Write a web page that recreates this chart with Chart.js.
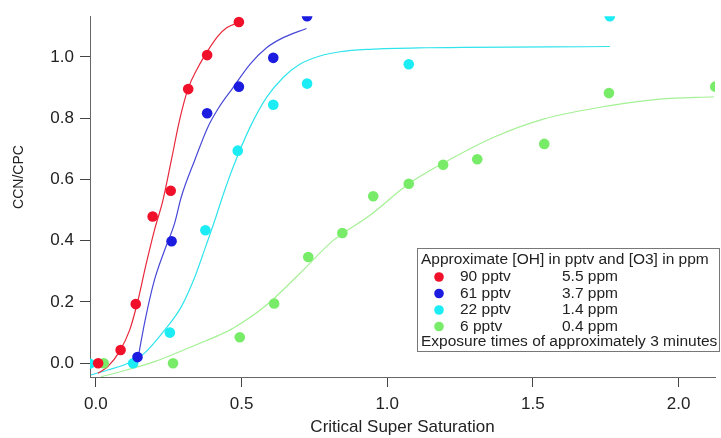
<!DOCTYPE html>
<html>
<head>
<meta charset="utf-8">
<script src="https://cdn.jsdelivr.net/npm/chart.js@4.4.1/dist/chart.umd.min.js"></script>
<style>
  html, body { margin: 0; padding: 0; background: #fff; }
  #wrap { width: 721px; height: 438px; position: relative; }
</style>
</head>
<body>
<div id="wrap"><canvas id="myChart1"></canvas></div>
<script>
const ctx = document.getElementById('myChart1');

// measured points (critical super saturation, CCN/CPC)
const redX = [0.008, 0.085, 0.137, 0.195, 0.257, 0.317, 0.382, 0.491];
const redY = [0.0, 0.043, 0.193, 0.479, 0.563, 0.895, 1.006, 1.114];
const blueX = [0.143, 0.26, 0.382, 0.491, 0.609, 0.725];
const blueY = [0.02, 0.398, 0.816, 0.903, 0.997, 1.133];
const cyanX = [-0.021, 0.128, 0.254, 0.376, 0.487, 0.609, 0.725, 1.074, 1.764];
const cyanY = [-0.002, 0.0, 0.1, 0.434, 0.694, 0.844, 0.913, 0.976, 1.133];
const greenX = [0.027, 0.265, 0.494, 0.612, 0.729, 0.846, 0.952, 1.074, 1.192, 1.309, 1.539, 1.761, 2.126];
const greenY = [0.0, 0.0, 0.085, 0.195, 0.347, 0.425, 0.545, 0.586, 0.648, 0.666, 0.716, 0.882, 0.903];

// fit curves
const redFitX = [0.007, 0.041, 0.081, 0.116, 0.142, 0.173, 0.201, 0.23, 0.259, 0.287, 0.316, 0.35, 0.384, 0.419, 0.449, 0.489];
const redFitY = [-0.033, -0.011, 0.038, 0.108, 0.195, 0.325, 0.434, 0.531, 0.662, 0.792, 0.895, 0.965, 1.02, 1.068, 1.095, 1.112];
const blueFitX = [0.14, 0.167, 0.201, 0.236, 0.27, 0.293, 0.339, 0.384, 0.419, 0.471, 0.529, 0.586, 0.643, 0.723];
const blueFitY = [-0.01, 0.13, 0.271, 0.369, 0.456, 0.542, 0.662, 0.77, 0.83, 0.9, 0.976, 1.03, 1.063, 1.093];
const cyanFitX = [-0.016, 0.041, 0.11, 0.167, 0.236, 0.293, 0.339, 0.373, 0.413, 0.437, 0.471, 0.529, 0.586, 0.643, 0.7, 0.769, 0.838, 0.941, 1.135, 1.764];
const cyanFitY = [-0.038, -0.022, 0.0, 0.033, 0.108, 0.184, 0.28, 0.37, 0.48, 0.55, 0.64, 0.77, 0.868, 0.933, 0.976, 1.003, 1.017, 1.025, 1.03, 1.034];
const greenFitX = [0.018, 0.087, 0.201, 0.316, 0.357, 0.42, 0.471, 0.586, 0.7, 0.815, 0.941, 1.074, 1.192, 1.364, 1.536, 1.764, 1.936, 2.122];
const greenFitY = [-0.044, -0.027, 0.005, 0.049, 0.065, 0.09, 0.114, 0.19, 0.293, 0.401, 0.483, 0.586, 0.653, 0.737, 0.797, 0.841, 0.862, 0.87];

const xTicks = [0, 0.5, 1.0, 1.5, 2.0];
const yTicks = [0, 0.2, 0.4, 0.6, 0.8, 1.0];

const xTitle = 'Critical Super Saturation';
const yTitle = 'CCN/CPC';
const legendTitle = 'Approximate [OH] in pptv and [O3] in ppm';
const ohLabels = ['90 pptv', '61 pptv', '22 pptv', '6 pptv'];
const o3Labels = ['5.5 ppm', '3.7 ppm', '1.4 ppm', '0.4 ppm'];
const legendFooter = 'Exposure times of approximately 3 minutes';

const pointColors = ['#f0102a', '#1c1ce0', '#1cecf4', '#78ec68'];
const lineColors = ['#e8283c', '#4848d8', '#30e4ec', '#a4f094'];

function pts(xs, ys) {
  return xs.map((x, i) => ({ x: x, y: ys[i] }));
}

const series = [
  [redX, redY, redFitX, redFitY],
  [blueX, blueY, blueFitX, blueFitY],
  [cyanX, cyanY, cyanFitX, cyanFitY],
  [greenX, greenY, greenFitX, greenFitY]
];

const datasets = [];
series.forEach((s, i) => {
  datasets.push({
    label: ohLabels[i],
    data: pts(s[0], s[1]),
    backgroundColor: pointColors[i],
    borderColor: pointColors[i],
    borderWidth: 0,
    pointRadius: 5.3,
    showLine: false,
    order: 0
  });
  datasets.push({
    label: ohLabels[i] + ' fit',
    data: pts(s[2], s[3]),
    borderColor: lineColors[i],
    borderWidth: 1.2,
    pointRadius: 0,
    showLine: true,
    tension: 0.4,
    cubicInterpolationMode: 'monotone',
    order: 1
  });
});

const FONT = '"Liberation Sans", Arial, sans-serif';

// legend box and y title drawn by hand
const extras = {
  id: 'extras',
  afterDraw(chart) {
    const c = chart.ctx;
    c.save();
    c.fillStyle = '#222';
    c.font = '14px ' + FONT;
    c.textAlign = 'center';
    c.textBaseline = 'middle';
    c.translate(19, 177);
    c.rotate(-Math.PI / 2);
    c.fillText(yTitle, 0, 0);
    c.restore();

    c.save();
    c.fillStyle = '#fff';
    c.fillRect(417, 248, 303, 104);
    c.strokeStyle = '#777';
    c.lineWidth = 1;
    c.strokeRect(417.5, 248.5, 302, 103);
    c.font = '15.5px ' + FONT;
    c.fillStyle = '#222';
    c.textBaseline = 'middle';
    c.fillText(legendTitle, 421, 260);
    ohLabels.forEach((lab, i) => {
      const y = 277 + i * 16.5;
      c.beginPath();
      c.arc(439, y, 4.8, 0, Math.PI * 2);
      c.fillStyle = pointColors[i];
      c.fill();
      c.fillStyle = '#222';
      c.fillText(lab, 460, y);
      c.fillText(o3Labels[i], 562, y);
    });
    c.fillText(legendFooter, 421, 342);
    c.restore();
  }
};

new Chart(ctx, {
  type: 'scatter',
  data: { datasets: datasets },
  options: {
    responsive: true,
    maintainAspectRatio: false,
    animation: false,
    layout: { padding: { top: 15, right: 6, left: 0, bottom: 0 } },
    plugins: {
      legend: { display: false },
      tooltip: { enabled: false }
    },
    scales: {
      x: {
        type: 'linear',
        min: -0.02,
        max: 2.125,
        afterBuildTicks: axis => { axis.ticks = xTicks.map(v => ({ value: v })); },
        afterFit: scale => { scale.height = 61; },
        border: { display: true, color: '#666', width: 1 },
        grid: { drawOnChartArea: false, drawTicks: true, tickLength: 10, color: '#444' },
        ticks: {
          padding: 7,
          color: '#222',
          font: { family: FONT, size: 17 },
          callback: v => v.toFixed(1)
        },
        title: {
          display: true,
          text: xTitle,
          color: '#222',
          font: { family: FONT, size: 17 },
          padding: { top: 4, bottom: 0 }
        }
      },
      y: {
        type: 'linear',
        min: -0.045,
        max: 1.133,
        afterBuildTicks: axis => { axis.ticks = yTicks.map(v => ({ value: v })); },
        afterFit: scale => { scale.width = 90; },
        border: { display: true, color: '#666', width: 1 },
        grid: { drawOnChartArea: false, drawTicks: true, tickLength: 10, color: '#444' },
        ticks: {
          padding: 6,
          color: '#222',
          font: { family: FONT, size: 17 },
          callback: v => v.toFixed(1)
        }
      }
    }
  },
  plugins: [extras]
});
</script>
</body>
</html>
